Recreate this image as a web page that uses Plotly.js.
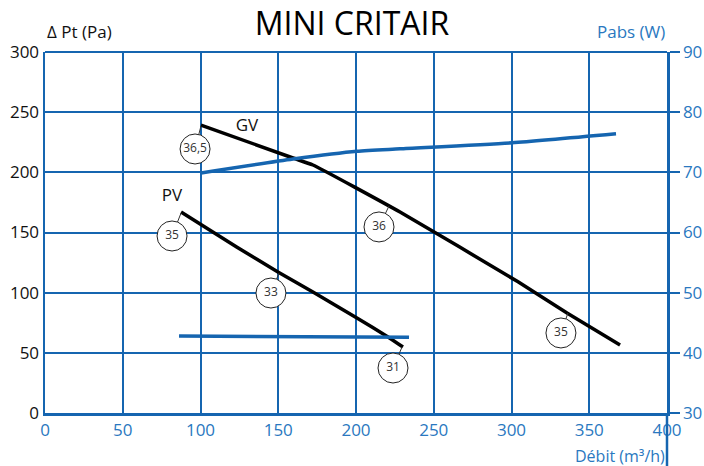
<!DOCTYPE html>
<html>
<head>
<meta charset="utf-8">
<script src="https://cdn.plot.ly/plotly-3.0.1.min.js"></script>
<style>html,body{margin:0;padding:0;background:#fff;}#chart{width:704px;height:466px;}</style>
</head>
<body>
<div id="chart"></div>
<script>
// Pressure curves (Pa) vs flow (m3/h)
const gvFlow = [100.3, 159.5, 172.3, 228.3, 304.2, 335.7, 369.8];
const gvPressure = [239.3, 211.9, 206.1, 167.0, 109.0, 83.1, 56.5];
const pvFlow = [87.5, 123.5, 149.8, 172.3, 200.6, 220.6, 230.2];
const pvPressure = [167.0, 137.8, 117.2, 100.6, 79.0, 63.2, 54.8];
// Absorbed power curves (W) vs flow
const gvPowerFlow = [100.3, 159.5, 200.6, 228.3, 300.3, 367.2];
const gvPower = [69.9, 72.2, 73.5, 73.9, 74.9, 76.4];
const pvPowerFlow = [86.2, 234.1];
const pvPower = [42.8, 42.6];
// Sound level labels (circled)
const soundLabels = ["36,5", "35", "36", "33", "31", "35"];
const soundX = [96.5, 81.7, 214.8, 145.3, 223.8, 331.8];
const soundY = [219.4, 147.1, 154.6, 99.7, 37.4, 66.5];
const anchorX = [100.3, 87.5, 221.2, 150.5, 229.6, 336.3];
const anchorY = [238.5, 166.2, 172.0, 116.3, 54.8, 83.1];
// Curve names
const curveNames = ["GV", "PV"];
const curveNameX = [129.9, 81.7];
const curveNameY = [237.7, 179.5];
// Axis ticks
const xTicks = [0, 50, 100, 150, 200, 250, 300, 350, 400];
const yTicks = [0, 50, 100, 150, 200, 250, 300];
const y2Ticks = [30, 40, 50, 60, 70, 80, 90];

const BLUE = "#1565b0";
const LABELBLUE = "#2a78c0";
const FONT = "Open Sans, Noto Sans, sans-serif";

const leaderX = [], leaderY = [];
for (let i = 0; i < soundX.length; i++) {
  leaderX.push(anchorX[i], soundX[i], null);
  leaderY.push(anchorY[i], soundY[i], null);
}

const traces = [
  {x: gvPowerFlow, y: gvPower, yaxis: "y2", mode: "lines", line: {color: BLUE, width: 3.5, shape: "spline", smoothing: 0.6}, hoverinfo: "skip"},
  {x: pvPowerFlow, y: pvPower, yaxis: "y2", mode: "lines", line: {color: BLUE, width: 3.5}, hoverinfo: "skip"},
  {x: gvFlow, y: gvPressure, mode: "lines", line: {color: "#000", width: 3.5, shape: "spline", smoothing: 0.4}, hoverinfo: "skip"},
  {x: pvFlow, y: pvPressure, mode: "lines", line: {color: "#000", width: 3.5, shape: "spline", smoothing: 0.4}, hoverinfo: "skip"},
  {x: leaderX, y: leaderY, mode: "lines", line: {color: "#333", width: 1}, hoverinfo: "skip"},
  {x: soundX, y: soundY, mode: "markers+text", text: soundLabels, textposition: "middle center",
   textfont: {family: FONT, size: 12, color: "#333"},
   marker: {symbol: "circle", size: 30, color: "#fff", line: {color: "#222", width: 1}}, hoverinfo: "skip"},
  {x: curveNameX, y: curveNameY, mode: "text", text: curveNames, textposition: "middle center",
   textfont: {family: FONT, size: 17, color: "#111"}, hoverinfo: "skip"}
];

const layout = {
  width: 704, height: 466,
  margin: {l: 45, r: 37, t: 52, b: 53},
  paper_bgcolor: "#fff", plot_bgcolor: "#fff",
  showlegend: false,
  font: {family: FONT},
  title: {text: "MINI CRITAIR", font: {family: FONT, size: 32, color: "#000"}, x: 0.5, xanchor: "center", y: 0.95, yanchor: "middle"},
  xaxis: {
    range: [0, 400], tickvals: xTicks, ticktext: xTicks.map(String),
    showgrid: true, gridcolor: BLUE, gridwidth: 2,
    zeroline: false, showline: true, linecolor: BLUE, linewidth: 2.5,
    ticks: "", tickfont: {family: FONT, size: 17, color: LABELBLUE}, fixedrange: true
  },
  yaxis: {
    range: [0, 300], tickvals: yTicks, ticktext: yTicks.map(String),
    showgrid: true, gridcolor: BLUE, gridwidth: 2,
    zeroline: false, showline: true, linecolor: BLUE, linewidth: 2.5, mirror: false,
    ticks: "", tickfont: {family: FONT, size: 17, color: "#111"}, fixedrange: true
  },
  yaxis2: {
    range: [30, 90], tickvals: y2Ticks, ticktext: y2Ticks.map(String),
    overlaying: "y", side: "right", showgrid: false, zeroline: false,
    showline: true, linecolor: BLUE, linewidth: 2.5,
    ticks: "outside", ticklen: 10, tickwidth: 2, tickcolor: BLUE,
    tickfont: {family: FONT, size: 17, color: LABELBLUE}, fixedrange: true
  },
  shapes: [
    {type: "line", xref: "paper", yref: "paper", x0: 1, x1: 1, y0: 0, y1: -0.15, line: {color: BLUE, width: 2.5}},
    {type: "line", xref: "paper", yref: "paper", x0: 0, x1: 1, y0: 1, y1: 1, line: {color: BLUE, width: 2}}
  ],
  annotations: [
    {xref: "paper", yref: "paper", x: 0, y: 1.058, xanchor: "left", yanchor: "middle", showarrow: false,
     text: "Δ Pt (Pa)", font: {family: FONT, size: 17, color: "#111"}},
    {xref: "paper", yref: "paper", x: 1, y: 1.058, xanchor: "right", yanchor: "middle", showarrow: false,
     text: "Pabs (W)", font: {family: FONT, size: 17, color: LABELBLUE}},
    {xref: "paper", yref: "paper", x: 1, y: -0.118, xanchor: "right", yanchor: "middle", showarrow: false,
     text: "Débit (m³/h)", font: {family: FONT, size: 16, color: LABELBLUE}}
  ]
};

Plotly.newPlot("chart", traces, layout, {displayModeBar: false, staticPlot: true});
</script>
</body>
</html>
